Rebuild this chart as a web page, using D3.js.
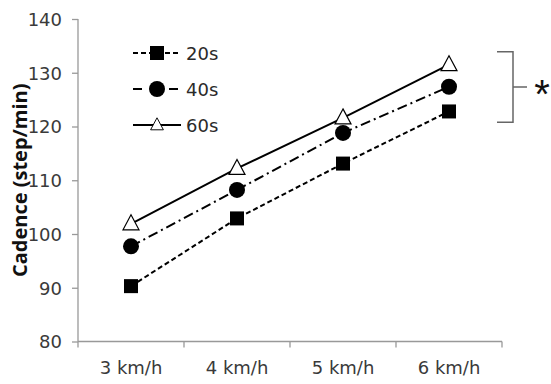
<!DOCTYPE html>
<html>
<head>
<meta charset="utf-8">
<script src="https://cdn.jsdelivr.net/npm/d3@7"></script>
<style>
  body { margin: 0; background: #fff; }
  svg { display: block; font-family: "DejaVu Sans", sans-serif; }
</style>
</head>
<body>
<div id="chart"></div>
<script>
  // data
  const speeds = ["3 km/h", "4 km/h", "5 km/h", "6 km/h"];
  const seriesNames = ["20s", "40s", "60s"];
  const cad20 = [90.3, 102.9, 113.1, 122.8];
  const cad40 = [97.7, 108.2, 118.8, 127.4];
  const cad60 = [101.9, 112.2, 121.6, 131.5];
  const yTicks = [80, 90, 100, 110, 120, 130, 140];

  const width = 551, height = 384;
  const margin = {top: 19, right: 49, bottom: 43, left: 78};
  const labelFont = "\"DejaVu Sans\", sans-serif";

  const svg = d3.select("#chart").append("svg")
    .attr("width", width)
    .attr("height", height);

  const x = d3.scaleBand()
    .domain(speeds)
    .range([margin.left, width - margin.right]);

  const y = d3.scaleLinear()
    .domain([80, 140])
    .range([height - margin.bottom + 0.5, margin.top]);

  //Axes
  const axisColor = "#999";

  const yAxis = svg.append("g")
    .attr("transform", "translate(" + margin.left + ",0)")
    .call(d3.axisLeft(y).tickValues(yTicks).tickSize(6).tickPadding(10));

  const xAxis = svg.append("g")
    .attr("transform", "translate(0," + y(80) + ")")
    .call(d3.axisBottom(x).tickSize(0).tickPadding(20));

  // tick marks sit on the band edges, not at the centres
  xAxis.selectAll(".edge")
    .data(x.domain().concat(["end"]))
    .enter()
    .append("line")
      .attr("class", "edge")
      .attr("x1", function(d) { return d === "end" ? x.range()[1] : x(d); })
      .attr("x2", function(d) { return d === "end" ? x.range()[1] : x(d); })
      .attr("y1", 0)
      .attr("y2", 6);

  [xAxis, yAxis].forEach(function(g) {
    g.select(".domain").attr("stroke", axisColor).attr("stroke-width", 1.3);
    g.selectAll("line").attr("stroke", axisColor).attr("stroke-width", 1.3);
    g.selectAll("text")
      .attr("fill", "#3a3a3a")
      .style("font-size", "18px")
      .style("font-family", labelFont);
  });
  yAxis.selectAll("text").attr("dy", "0.36em");
  xAxis.select(".domain").attr("d", "M" + x.range()[0] + ",0H" + x.range()[1]);
  yAxis.select(".domain").attr("d", "M0," + y(80) + "V" + y(140));

  //Y label
  svg.append("text")
    .attr("transform", "translate(27," + ((y(80) + y(140)) / 2) + ") rotate(-90)")
    .attr("text-anchor", "middle")
    .attr("fill", "#111")
    .style("font-family", "\"Open Sans\", \"Noto Sans\", sans-serif")
    .style("font-size", "20px")
    .style("font-weight", "bold")
    .text("Cadence (step/min)");

  //Series
  const series = [
    {name: seriesNames[0], values: cad20, dash: "5,3", marker: "square"},
    {name: seriesNames[1], values: cad40, dash: "10,4,2,4", marker: "circle"},
    {name: seriesNames[2], values: cad60, dash: null, marker: "triangle"}
  ];

  const line = d3.line()
    .x(function(d, i) { return x(speeds[i]) + x.bandwidth() / 2; })
    .y(function(d) { return y(d); });

  function drawMarker(g, type) {
    if (type === "square") {
      g.append("rect").attr("x", -7).attr("y", -7).attr("width", 14).attr("height", 14)
        .attr("fill", "#000");
    } else if (type === "circle") {
      g.append("circle").attr("r", 8).attr("fill", "#000");
    } else {
      g.append("path").attr("d", "M0,-9L8,6L-8,6Z")
        .attr("fill", "#fff").attr("stroke", "#000").attr("stroke-width", 1.2);
    }
  }

  series.forEach(function(s) {
    svg.append("path")
      .datum(s.values)
      .attr("fill", "none")
      .attr("stroke", "#000")
      .attr("stroke-width", 2)
      .attr("stroke-dasharray", s.dash)
      .attr("d", line);

    svg.selectAll(".m-" + s.marker)
      .data(s.values)
      .enter()
      .append("g")
        .attr("class", "m-" + s.marker)
        .attr("transform", function(d, i) {
          return "translate(" + (x(speeds[i]) + x.bandwidth() / 2) + "," + y(d) + ")";
        })
        .each(function() { drawMarker(d3.select(this), s.marker); });
  });

  //Legend
  const legend = svg.append("g").attr("transform", "translate(133,53)");
  series.forEach(function(s, i) {
    const row = legend.append("g").attr("transform", "translate(0," + (i * 36) + ")");
    row.append("line")
      .attr("x1", 0).attr("x2", 48).attr("y1", 0).attr("y2", 0)
      .attr("stroke", "#000").attr("stroke-width", 2)
      .attr("stroke-dasharray", s.marker === "circle" ? "9,9" : s.dash);
    const m = row.append("g").attr("transform", "translate(24,0)" + (s.marker === "triangle" ? " scale(0.8)" : ""));
    drawMarker(m, s.marker);
    row.append("text")
      .attr("x", 53).attr("y", 6.5)
      .attr("fill", "#2a2a2a")
      .style("font-size", "18px")
      .text(s.name);
  });

  //Significance bracket
  const bTop = y(133.9), bBot = y(120.8), bMid = (bTop + bBot) / 2;
  svg.append("path")
    .attr("d", "M497," + bTop + "H513V" + bBot + "H497M513," + bMid + "H527")
    .attr("fill", "none")
    .attr("stroke", "#666")
    .attr("stroke-width", 1.5);

  svg.append("text")
    .attr("x", 542).attr("y", bMid + 21)
    .attr("text-anchor", "middle")
    .attr("fill", "#111")
    .style("font-family", "\"Liberation Sans\", sans-serif")
    .style("font-size", "40px")
    .text("*");
</script>
</body>
</html>
